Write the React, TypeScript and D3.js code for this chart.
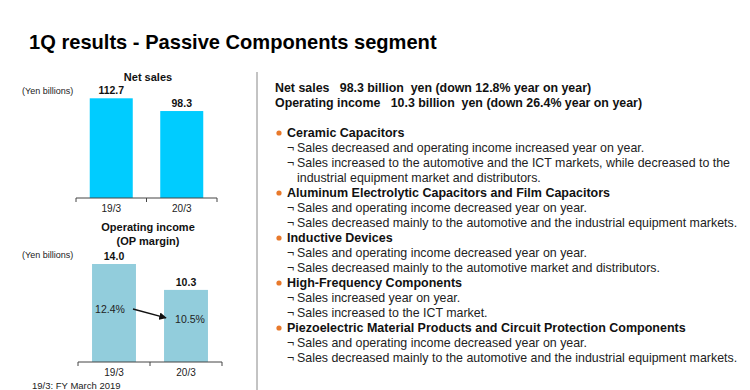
import React from 'react';
import * as d3 from 'd3';

// chart data
const periods = ['19/3', '20/3'];
const netSales = [112.7, 98.3];
const opIncome = [14.0, 10.3];
const opMargin = [12.4, 10.5];

const summaryLines = [
  'Net sales   98.3 billion  yen (down 12.8% year on year)',
  'Operating income   10.3 billion  yen (down 26.4% year on year)',
];

const segments = [
  {
    head: 'Ceramic Capacitors',
    notes: [
      'Sales decreased and operating income increased year on year.',
      'Sales increased to the automotive and the ICT markets, while decreased to the',
      '+industrial equipment market and distributors.',
    ],
  },
  {
    head: 'Aluminum Electrolytic Capacitors and Film Capacitors',
    notes: [
      'Sales and operating income decreased year on year.',
      'Sales decreased mainly to the automotive and the industrial equipment markets.',
    ],
  },
  {
    head: 'Inductive Devices',
    notes: [
      'Sales and operating income decreased year on year.',
      'Sales decreased mainly to the automotive market and distributors.',
    ],
  },
  {
    head: 'High-Frequency Components',
    notes: ['Sales increased year on year.', 'Sales increased to the ICT market.'],
  },
  {
    head: 'Piezoelectric Material Products and Circuit Protection Components',
    notes: [
      'Sales and operating income decreased year on year.',
      'Sales decreased mainly to the automotive and the industrial equipment markets.',
    ],
  },
];

const FONT = 'Arial, "Liberation Sans", sans-serif';

function BarPanel(props: {
  values: number[];
  color: string;
  x0: number;
  x1: number;
  base: number;
  yMax: number;
  top: number;
  fmt: (v: number) => string;
}) {
  const { values, color, x0, x1, base, yMax, top, fmt } = props;
  const x = d3.scaleBand<string>().domain(periods).range([x0, x1]).paddingInner(0.39).paddingOuter(0.195);
  const y = d3.scaleLinear().domain([0, yMax]).range([base, top]);
  const ticks = [x0, (x0 + x1) / 2, x1];
  return (
    <g>
      {values.map((v, i) => (
        <g key={i}>
          <rect x={x(periods[i])} y={y(v)} width={x.bandwidth()} height={base - y(v)} fill={color} />
          <text
            x={(x(periods[i]) as number) + x.bandwidth() / 2}
            y={y(v) - 4}
            textAnchor="middle"
            fontWeight="bold"
            fontSize={10.5}
            fill="#111"
          >
            {fmt(v)}
          </text>
          <text
            x={(x(periods[i]) as number) + x.bandwidth() / 2}
            y={base + 14}
            textAnchor="middle"
            fontSize={10}
            fill="#222"
          >
            {periods[i]}
          </text>
        </g>
      ))}
      <line x1={x0} x2={x1} y1={base} y2={base} stroke="#444" strokeWidth={1} />
      {ticks.map((t, i) => (
        <line key={i} x1={t} x2={t} y1={base} y2={base + 4} stroke="#444" strokeWidth={1} />
      ))}
    </g>
  );
}

export default function App() {
  // operating income panel geometry, reused for the margin labels
  const xOp = d3.scaleBand<string>().domain(periods).range([78, 222]).paddingInner(0.39).paddingOuter(0.195);
  const yOp = d3.scaleLinear().domain([0, 15]).range([362, 257]);
  const mx = periods.map((p) => (xOp(p) as number) + xOp.bandwidth() / 2);
  const my = [yOp(opIncome[0]) + 45, yOp(opIncome[1]) + 29];

  const lineH = 15;
  let row = 0;
  const rows: React.ReactNode[] = [];
  segments.forEach((s, si) => {
    const yy = 137 + row * lineH;
    rows.push(
      <g key={'h' + si}>
        <circle cx={279} cy={yy - 4} r={2.6} fill="#E8792B" />
        <text x={287} y={yy} fontWeight="bold" fontSize={12.5} fill="#111">
          {s.head}
        </text>
      </g>
    );
    row++;
    s.notes.forEach((n, ni) => {
      const y2 = 137 + row * lineH;
      const cont = n.startsWith('+');
      rows.push(
        <g key={'n' + si + '-' + ni}>
          {!cont && (
            <text x={287} y={y2} fontSize={12.4} fill="#222">
              ¬
            </text>
          )}
          <text x={297} y={y2} fontSize={12.4} fill="#222">
            {cont ? n.slice(1) : n}
          </text>
        </g>
      );
      row++;
    });
  });

  return (
    <svg
      width={750}
      height={390}
      style={{ position: 'absolute', left: 0, top: 0, background: '#fff' }}
      fontFamily={FONT}
    >
      <defs>
        <marker id="arr" viewBox="0 0 10 10" refX={9} refY={5} markerWidth={5} markerHeight={5} orient="auto">
          <path d="M0,0 L10,5 L0,10 z" fill="#111" />
        </marker>
      </defs>
      <text x={29} y={49} fontSize={20.1} fontWeight="bold" fill="#000">
        1Q results - Passive Components segment
      </text>

      {/* net sales */}
      <text x={148} y={81} textAnchor="middle" fontWeight="bold" fontSize={11} fill="#111">
        Net sales
      </text>
      <text x={22} y={94} fontSize={9} fill="#222">
        (Yen billions)
      </text>
      <BarPanel
        values={netSales}
        color="#00CCFF"
        x0={76}
        x1={217}
        base={198}
        yMax={120}
        top={198 - 120 * (99.7 / 112.7)}
        fmt={(v) => v.toFixed(1)}
      />

      {/* operating income */}
      <text x={148} y={231} textAnchor="middle" fontWeight="bold" fontSize={11} fill="#111">
        Operating income
      </text>
      <text x={148} y={245} textAnchor="middle" fontWeight="bold" fontSize={11} fill="#111">
        (OP margin)
      </text>
      <text x={22} y={258} fontSize={9} fill="#222">
        (Yen billions)
      </text>
      <BarPanel
        values={opIncome}
        color="#92CDDC"
        x0={78}
        x1={222}
        base={362}
        yMax={15}
        top={257}
        fmt={(v) => v.toFixed(1)}
      />
      {opMargin.map((m, i) => (
        <text key={i} x={mx[i] - (i === 0 ? 4 : -4)} y={my[i] + 4} textAnchor="middle" fontSize={10.5} fill="#222">
          {m.toFixed(1)}%
        </text>
      ))}
      <line
        x1={mx[0] + 19}
        y1={my[0]}
        x2={mx[1] - 20}
        y2={my[1] - 1}
        stroke="#111"
        strokeWidth={1.5}
        markerEnd="url(#arr)"
      />
      <text x={32} y={389} fontSize={9.5} fill="#222">
        19/3: FY March 2019
      </text>

      <line x1={257} x2={257} y1={72} y2={390} stroke="#888" strokeWidth={1} />

      {summaryLines.map((s, i) => (
        <text key={i} x={275} y={92 + i * 15} fontWeight="bold" fontSize={12.4} fill="#111" style={{ whiteSpace: 'pre' }}>
          {s}
        </text>
      ))}
      {rows}
    </svg>
  );
}
